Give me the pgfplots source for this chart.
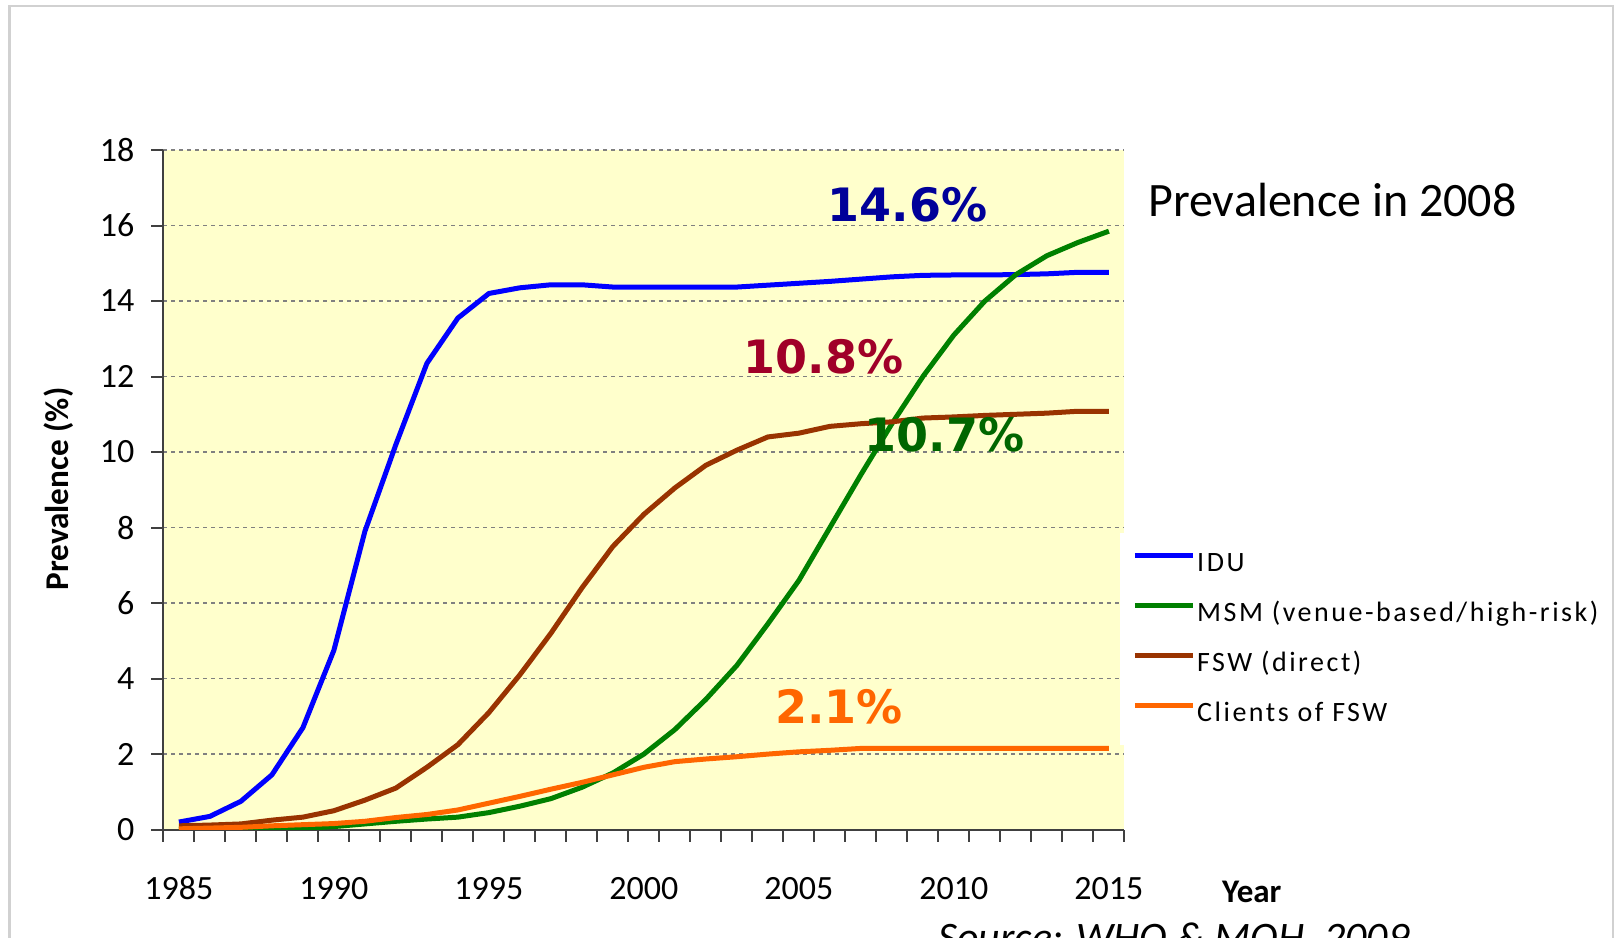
\documentclass[border=0pt]{standalone}
\usepackage{pgfplots}
\pgfplotsset{compat=1.18}
\usepackage{fontspec}
\setmainfont{Carlito}
\newfontfamily\dejavu{DejaVu Sans}
\newfontfamily\legfont[LetterSpace=9]{Carlito}
\definecolor{idu}{HTML}{0000FF}
\definecolor{msm}{HTML}{008000}
\definecolor{fsw}{HTML}{993300}
\definecolor{cli}{HTML}{FF6600}
\definecolor{bgy}{HTML}{FFFFCC}
\definecolor{labA}{HTML}{000099}
\definecolor{labB}{HTML}{A00028}
\definecolor{labC}{HTML}{006600}
\begin{document}
\begin{tikzpicture}
\useasboundingbox (0,0) rectangle (811pt,468.5pt);
\fill[white] (0,0) rectangle (811pt,468.5pt);
\draw[black!18, line width=1.2pt] (4.7pt,-10pt) -- (4.7pt,465.5pt) -- (806.5pt,465.5pt) -- (806.5pt,-10pt);
\begin{axis}[
  at={(81.7pt,53.7pt)}, anchor=south west,
  width=480.5pt, height=339.8pt, scale only axis,
  xmin=1984.5, xmax=2015.5, ymin=0, ymax=18,
  ytick={0,2,...,18},
  xtick={1985,1990,...,2015},
  minor xtick={1984.5,1985.5,...,2015.5},
  axis x line*=bottom, axis y line*=left,
  axis line style={-, black!75, line width=1pt},
  axis background/.style={fill=bgy},
  ymajorgrids,
  grid style={black!50, line width=0.6pt, dash pattern=on 2pt off 2pt},
  tick align=outside,
  major tick length=6pt, minor tick length=6pt,
  tick style={black!75, line width=1pt},
  major x tick style={draw=none},
  /pgf/number format/assume math mode=true,
  /pgf/number format/set thousands separator={},
  tick label style={font=\fontsize{17}{20}\selectfont},
  xticklabel style={anchor=base, yshift=-29pt},
  yticklabel style={anchor=east, xshift=-5pt},
  legend style={at={(0.9954,0.4364)}, anchor=north west, draw=none, fill=white,
    font=\legfont\fontsize{14}{16}\selectfont, row sep=10pt,
    inner xsep=6pt, inner ysep=8pt,
    nodes={inner sep=1pt, text height=10pt, text depth=3pt}},
  legend cell align=left,
  legend image code/.code={\draw[#1, line width=2.4pt] (0pt,4.5pt) -- (29pt,4.5pt);},
]
\addplot[idu, line width=2.5pt, line join=round] coordinates {
(1985,0.2)(1986,0.35)(1987,0.75)(1988,1.45)(1989,2.7)(1990,4.75)(1991,7.9)(1992,10.2)
(1993,12.35)(1994,13.55)(1995,14.2)(1996,14.35)(1997,14.43)(1998,14.43)(1999,14.37)
(2000,14.37)(2001,14.37)(2002,14.37)(2003,14.37)(2004,14.42)(2005,14.47)(2006,14.52)
(2007,14.58)(2008,14.64)(2009,14.68)(2010,14.69)(2011,14.69)(2012,14.7)(2013,14.72)
(2014,14.76)(2015,14.76)};
\addlegendentry{IDU}
\addplot[msm, line width=2.5pt, line join=round] coordinates {
(1985,0)(1986,0)(1987,0)(1988,0)(1989,0.03)(1990,0.08)(1991,0.15)(1992,0.22)(1993,0.28)
(1994,0.33)(1995,0.45)(1996,0.62)(1997,0.82)(1998,1.12)(1999,1.5)(2000,2.0)(2001,2.65)
(2002,3.45)(2003,4.35)(2004,5.45)(2005,6.6)(2006,8.0)(2007,9.4)(2008,10.75)(2009,12.0)
(2010,13.1)(2011,14.0)(2012,14.7)(2013,15.2)(2014,15.55)(2015,15.85)};
\addlegendentry{MSM (venue-based/high-risk)}
\addplot[fsw, line width=2.5pt, line join=round] coordinates {
(1985,0.1)(1986,0.12)(1987,0.15)(1988,0.25)(1989,0.33)(1990,0.5)(1991,0.78)(1992,1.1)
(1993,1.65)(1994,2.25)(1995,3.1)(1996,4.1)(1997,5.2)(1998,6.4)(1999,7.5)(2000,8.35)
(2001,9.05)(2002,9.65)(2003,10.05)(2004,10.4)(2005,10.5)(2006,10.68)(2007,10.75)
(2008,10.8)(2009,10.9)(2010,10.93)(2011,10.97)(2012,11.0)(2013,11.03)(2014,11.08)(2015,11.08)};
\addlegendentry{FSW (direct)}
\addplot[cli, line width=2.5pt, line join=round] coordinates {
(1985,0.02)(1986,0.04)(1987,0.06)(1988,0.1)(1989,0.13)(1990,0.16)(1991,0.22)(1992,0.32)
(1993,0.4)(1994,0.52)(1995,0.7)(1996,0.88)(1997,1.07)(1998,1.25)(1999,1.45)(2000,1.65)
(2001,1.8)(2002,1.87)(2003,1.93)(2004,2.0)(2005,2.06)(2006,2.1)(2007,2.15)(2008,2.15)
(2009,2.15)(2010,2.15)(2011,2.15)(2012,2.15)(2013,2.15)(2014,2.15)(2015,2.15)};
\addlegendentry{Clients of FSW}
\node[font=\dejavu\bfseries\fontsize{23}{27}\selectfont, text=labA] at (axis cs:2008.5,16.55) {14.6\%};
\node[font=\dejavu\bfseries\fontsize{23}{27}\selectfont, text=labB] at (axis cs:2005.8,12.52) {10.8\%};
\node[font=\dejavu\bfseries\fontsize{23}{27}\selectfont, text=labC] at (axis cs:2009.7,10.46) {10.7\%};
\node[font=\dejavu\bfseries\fontsize{23}{27}\selectfont, text=cli] at (axis cs:2006.3,3.26) {2.1\%};
\end{axis}
\node[font=\fontsize{24}{29}\selectfont] at (666.2pt,368.7pt) {Prevalence in 2008};
\node[font=\bfseries\fontsize{16.6}{20}\selectfont, rotate=90] at (29.5pt,224pt) {Prevalence (\%)};
\node[font=\bfseries\fontsize{16.5}{20}\selectfont] at (625.9pt,22.65pt) {Year};
\node[font=\itshape\fontsize{21}{25}\selectfont, anchor=base west, inner sep=0pt] at (469pt,-7pt) {Source: WHO \& MOH, 2009};
\end{tikzpicture}
\end{document}
